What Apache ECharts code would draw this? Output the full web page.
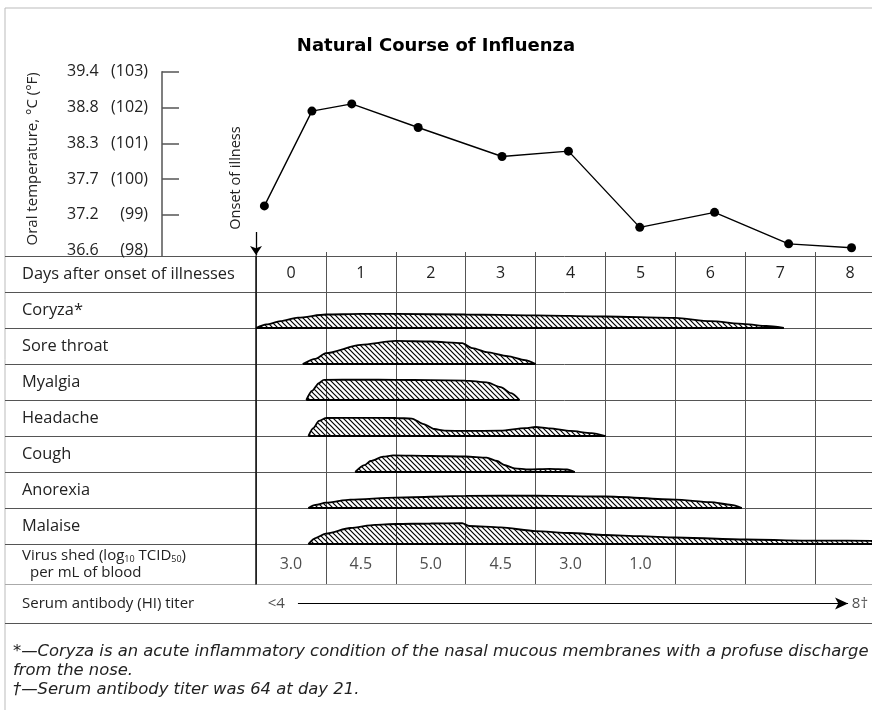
<!DOCTYPE html>
<html><head><meta charset="utf-8">
<script src="https://cdn.jsdelivr.net/npm/echarts@6/dist/echarts.min.js"></script>
<style>html,body{margin:0;padding:0;background:#fff}#c{width:872px;height:710px}</style>
</head><body><div id="c"></div>
<script>
// ---------------- data ----------------
const titleText = 'Natural Course of Influenza';
const days = ['0','1','2','3','4','5','6','7','8'];
// oral temperature (°F) by day after onset
const tempDays = [0.12, 0.80, 1.37, 2.32, 3.52, 4.47, 5.49, 6.56, 7.62, 8.52];
const tempF = [99.25, 101.9, 102.1, 101.44, 100.63, 100.78, 98.65, 99.07, 98.19, 98.08];
const tempTicksF = [98, 99, 100, 101, 102, 103];
const tempTicksC = ['36.6', '37.2', '37.7', '38.3', '38.8', '39.4'];
const onsetDay = 0;
const rowLabels = ['Days after onset of illnesses', 'Coryza*', 'Sore throat', 'Myalgia', 'Headache', 'Cough', 'Anorexia', 'Malaise'];
// symptom severity (0-10 relative scale) by day
const coryza = [[0,0],[0.15,1.0],[0.35,1.9],[0.6,2.9],[1.0,3.75],[1.5,3.9],[2,3.9],[3,3.75],[4,3.5],[5,3.2],[6,2.8],[6.5,1.9],[7,1.1],[7.3,0.55],[7.55,0]];
const soreThroat = [[0.67,0],[0.85,1.4],[1.0,3.0],[1.5,5.3],[2.0,6.4],[2.5,6.25],[2.95,5.8],[3.1,4.4],[3.3,3.3],[3.6,2.2],[3.85,1.1],[4.0,0]];
const myalgia = [[0.72,0],[0.8,2.5],[0.9,4.7],[0.97,5.6],[1.5,5.65],[2,5.6],[2.5,5.5],[3,5.4],[3.3,4.9],[3.5,3.6],[3.65,1.9],[3.77,0]];
const headache = [[0.75,0],[0.82,2.2],[0.9,4.2],[1.0,5.0],[1.5,5.05],[2.0,5.0],[2.23,4.85],[2.4,3.3],[2.55,1.95],[2.7,1.5],[3.0,1.4],[3.5,1.5],[3.85,2.2],[4.0,2.5],[4.2,2.1],[4.5,1.4],[4.8,0.8],[5.0,0]];
const cough = [[1.42,0],[1.55,1.9],[1.64,3.05],[1.82,4.25],[1.96,4.6],[2.5,4.45],[3.0,4.3],[3.3,4.0],[3.45,3.05],[3.55,1.95],[3.7,1.0],[3.9,0.7],[4.2,0.85],[4.45,0.7],[4.56,0]];
const anorexia = [[0.75,0],[0.85,0.85],[1.0,1.5],[1.35,2.35],[2.0,2.9],[3.0,3.35],[4.0,3.45],[5.0,3.2],[6.0,2.35],[6.5,1.65],[6.8,0.85],[6.95,0]];
const malaise = [[0.75,0],[0.85,1.65],[1.0,2.9],[1.35,4.45],[1.7,5.3],[2.0,5.55],[2.5,5.7],[2.95,5.8],[3.05,5.0],[3.5,4.6],[4.0,3.6],[4.5,3.05],[5.0,2.5],[5.5,2.2],[6.0,1.8],[7.0,1.25],[8.0,0.95],[9.0,0.85]];
const symptoms = [coryza, soreThroat, myalgia, headache, cough, anorexia, malaise];
const virusShed = [3.0, 4.5, 5.0, 4.5, 3.0, 1.0];
const serumLabel = 'Serum antibody (HI) titer';
const serumDays = [0.29, 8.64];
const serumTiters = ['<4', '8†'];
const footnotes = [
  '*—Coryza is an acute inflammatory condition of the nasal mucous membranes with a profuse discharge',
  'from the nose.',
  '†—Serum antibody titer was 64 at day 21.'
];

// ---------------- layout ----------------
const FONT = '"Open Sans", "Liberation Sans", sans-serif';
const X0 = 256, DAY_PX = 69.9, TOP = 256, ROW = 36, VROW = 40, SROW = 39;
const AXIS_X = 162, TEMP_TOP = 71.7, LEFT = 5;
const LINE = '#555';
const TXT = '#222';

function hatch() {
  const c = document.createElement('canvas');
  c.width = 5; c.height = 5;
  const g = c.getContext('2d');
  g.strokeStyle = '#000'; g.lineWidth = 1.2;
  g.beginPath();
  g.moveTo(-1, -1); g.lineTo(6, 6);
  g.moveTo(-1, 4); g.lineTo(1, 6);
  g.moveTo(4, -1); g.lineTo(6, 1);
  g.stroke();
  return c;
}
const pattern = { image: hatch(), repeat: 'repeat' };

const grids = [], xAxes = [], yAxes = [], series = [];
function addGrid(g, xa, ya) {
  grids.push(Object.assign({ outerBoundsMode: 'none', containLabel: false }, g));
  const gi = grids.length - 1;
  xa.gridIndex = gi; ya.gridIndex = gi;
  xAxes.push(xa); yAxes.push(ya);
  return gi;
}
const hiddenVal = (min, max) => ({ type: 'value', min, max, show: false });

// frame
addGrid({ left: LEFT, top: 8, width: 900, height: 800, show: true, borderColor: '#bbb', borderWidth: 1 },
  hiddenVal(0, 1), hiddenVal(0, 1));

// temperature plot
const tempXMin = -(X0 - AXIS_X) / DAY_PX;
const gTemp = addGrid({ left: AXIS_X, top: TEMP_TOP, width: (9 - tempXMin) * DAY_PX, height: TOP - TEMP_TOP },
  { type: 'value', min: tempXMin, max: 9, axisLine: { show: false, onZero: false },
    axisTick: { show: true, inside: true, length: 4, customValues: days.map(Number), lineStyle: { color: LINE } },
    axisLabel: { show: false }, splitLine: { show: false } },
  { type: 'value', min: 97.85, max: 103,
    name: 'Oral temperature, °C (°F)', nameLocation: 'middle', nameGap: 122, nameRotate: 90,
    nameTextStyle: { fontFamily: FONT, fontSize: 15, color: TXT, padding: [0, 0, 0, 10] },
    axisLine: { show: true, onZero: false, lineStyle: { color: LINE, width: 1.5 } },
    axisTick: { show: true, inside: true, length: 17, customValues: tempTicksF.slice(1), lineStyle: { color: LINE, width: 1.5 } },
    axisLabel: { show: true, customValues: tempTicksF, margin: 14,
      formatter: v => '{c|' + tempTicksC[tempTicksF.indexOf(v)] + '}{f|(' + v + ')}',
      rich: { c: { width: 39, align: 'left', fontFamily: FONT, fontSize: 16, color: TXT },
              f: { width: 42, align: 'right', fontFamily: FONT, fontSize: 16, color: TXT } } },
    splitLine: { show: false } });
series.push({ type: 'line', xAxisIndex: gTemp, yAxisIndex: gTemp,
  data: tempDays.map((d, i) => [d, tempF[i]]),
  symbol: 'circle', symbolSize: 9, itemStyle: { color: '#000' },
  lineStyle: { color: '#000', width: 1.4 }, z: 5,
  markLine: { silent: true, symbol: ['none', 'arrow'], symbolSize: 9,
    lineStyle: { color: '#000', width: 1.3, type: 'solid' }, label: { show: false },
    data: [[{ coord: [onsetDay, 98.52] }, { coord: [onsetDay, 97.88] }]] } });

// label column
addGrid({ left: LEFT, top: TOP, width: X0 - LEFT, height: 8 * ROW },
  hiddenVal(0, 1),
  { type: 'category', data: rowLabels, inverse: true, axisLine: { show: false }, axisTick: { show: false },
    axisLabel: { show: true, inside: true, interval: 0, margin: 17, fontFamily: FONT, fontSize: 16.4, color: TXT },
    splitLine: { show: true, interval: 0, lineStyle: { color: LINE, width: 1 } } });

// day table
addGrid({ left: X0, top: TOP, width: 9 * DAY_PX, height: 8 * ROW },
  { type: 'category', data: days, position: 'top', axisLine: { show: false }, axisTick: { show: false },
    axisLabel: { show: true, inside: true, interval: 0, margin: 9, fontFamily: FONT, fontSize: 16, color: TXT },
    splitLine: { show: true, interval: 0, lineStyle: { color: LINE, width: 1 } } },
  { type: 'category', data: rowLabels, inverse: true, axisLine: { show: true, lineStyle: { color: '#111', width: 1.5 } },
    axisTick: { show: false }, axisLabel: { show: false },
    splitLine: { show: true, interval: 0, lineStyle: { color: LINE, width: 1 } } });

// symptom rows
symptoms.forEach((pts, k) => {
  const gi = addGrid({ left: X0, top: TOP + ROW * (k + 1), width: 9 * DAY_PX, height: ROW }, hiddenVal(0, 9), hiddenVal(0, 10));
  series.push({ type: 'line', xAxisIndex: gi, yAxisIndex: gi, data: pts, symbol: 'none',
    smooth: 0.25, smoothMonotone: 'x', lineStyle: { color: '#000', width: 1.8 },
    areaStyle: { color: pattern, opacity: 1, origin: 'start' }, z: 3, silent: true });
  series.push({ type: 'line', xAxisIndex: gi, yAxisIndex: gi,
    data: [[pts[0][0], 0], [pts[pts.length - 1][0], 0]], symbol: 'none',
    lineStyle: { color: '#000', width: 2 }, z: 4, silent: true });
});

// virus shed row
addGrid({ left: LEFT, top: TOP + 8 * ROW, width: X0 - LEFT, height: VROW },
  hiddenVal(0, 1),
  { type: 'category', data: ['virus'], axisLine: { show: false }, axisTick: { show: false },
    axisLabel: { show: true, inside: true, margin: 17,
      formatter: () => '{a|Virus shed (log}{s|10}{a| TCID}{s|50}{a|)}\n{b|per mL of blood}',
      rich: { a: { fontFamily: FONT, fontSize: 15, color: TXT, lineHeight: 17 },
              s: { fontFamily: FONT, fontSize: 9, color: TXT, lineHeight: 17, verticalAlign: 'bottom' },
              b: { fontFamily: FONT, fontSize: 15, color: TXT, lineHeight: 17, padding: [0, 0, 0, 8] } } },
    splitLine: { show: true, interval: 0, lineStyle: { color: LINE, width: 1 } } });
const gVirus = addGrid({ left: X0, top: TOP + 8 * ROW, width: 9 * DAY_PX, height: VROW },
  { type: 'category', data: days, axisLine: { show: false }, axisTick: { show: false }, axisLabel: { show: false },
    splitLine: { show: true, interval: 0, lineStyle: { color: LINE, width: 1 } } },
  { type: 'category', data: ['virus'], axisLine: { show: true, lineStyle: { color: '#111', width: 1.5 } },
    axisTick: { show: false }, axisLabel: { show: false },
    splitLine: { show: true, interval: 0, lineStyle: { color: LINE, width: 1 } } });
series.push({ type: 'scatter', xAxisIndex: gVirus, yAxisIndex: gVirus,
  data: virusShed.map((v, i) => [i, 0, v]), symbolSize: 1, itemStyle: { color: 'rgba(0,0,0,0)' },
  label: { show: true, position: 'inside', formatter: p => p.value[2].toFixed(1),
    fontFamily: FONT, fontSize: 16, color: TXT } });

// serum antibody row
const serumXMin = -(X0 - LEFT) / DAY_PX;
const gSerum = addGrid({ left: LEFT, top: TOP + 8 * ROW + VROW, width: (9 - serumXMin) * DAY_PX, height: SROW },
  { type: 'value', min: serumXMin, max: 9, show: false },
  { type: 'category', data: [serumLabel], axisLine: { show: false }, axisTick: { show: false },
    axisLabel: { show: true, inside: true, margin: 17, fontFamily: FONT, fontSize: 15, color: TXT },
    splitLine: { show: true, interval: 0, lineStyle: { color: [LINE, '#aaa'], width: 1 } } });
series.push({ type: 'scatter', xAxisIndex: gSerum, yAxisIndex: gSerum,
  data: serumDays.map(d => [d, 0]), symbolSize: 1, itemStyle: { color: 'rgba(0,0,0,0)' },
  label: { show: true, position: 'inside', formatter: p => serumTiters[p.dataIndex],
    fontFamily: FONT, fontSize: 15, color: TXT },
  markLine: { silent: true, symbol: ['none', 'arrow'], symbolSize: [9, 13],
    lineStyle: { color: '#000', width: 1.2, type: 'solid' }, label: { show: false },
    data: [[{ coord: [serumDays[0] + 0.31, 0] }, { coord: [serumDays[1] - 0.17, 0] }]] } });

const titles = [{ text: titleText, left: 'center', top: 32,
  textStyle: { fontFamily: '"DejaVu Sans", sans-serif', fontWeight: 'bold', fontSize: 18, color: '#000' } }];
footnotes.forEach((t, i) => titles.push({ text: t, left: 13, top: 644 + 19 * i, padding: 0,
  textStyle: { fontFamily: '"DejaVu Sans", sans-serif', fontStyle: 'italic', fontWeight: 'normal', fontSize: 16.4, color: TXT } }));

const chart = echarts.init(document.getElementById('c'), null, { renderer: 'canvas', width: 872, height: 710 });
chart.setOption({
  animation: false,
  backgroundColor: '#fff',
  title: titles,
  grid: grids, xAxis: xAxes, yAxis: yAxes, series: series,
  graphic: [{ type: 'text', x: 236, y: 178, rotation: Math.PI / 2,
    style: { text: 'Onset of illness', font: '14.5px "Open Sans", sans-serif', fill: TXT, align: 'center', verticalAlign: 'middle' } }]
});
</script></body></html>
